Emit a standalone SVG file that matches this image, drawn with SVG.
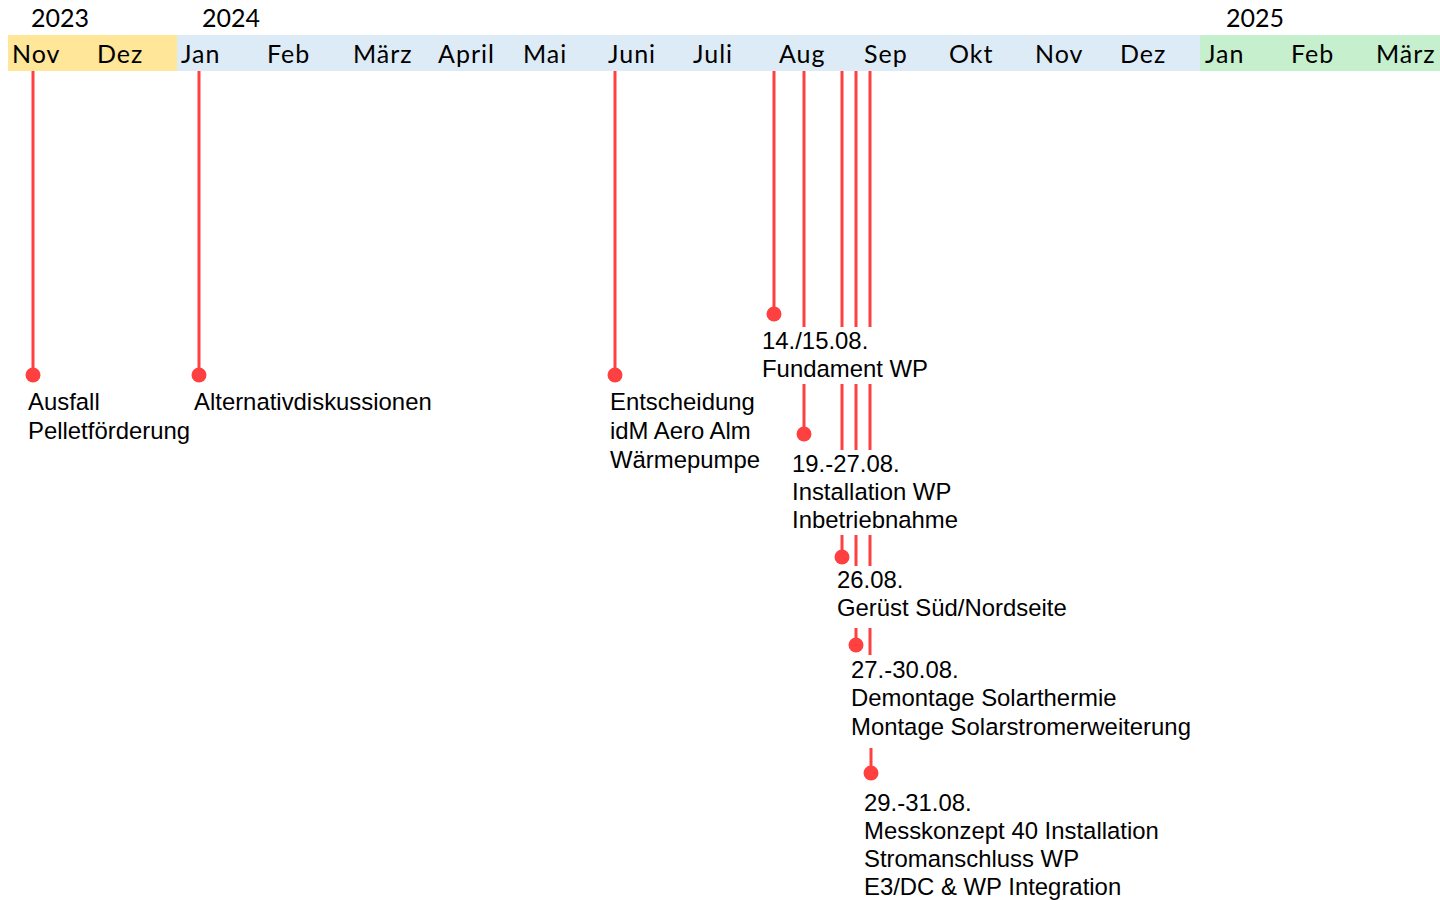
<svg xmlns="http://www.w3.org/2000/svg" width="1440" height="900" viewBox="0 0 1440 900">
<style>
.yr{font-family:Lato,"Open Sans","Liberation Sans",sans-serif;font-size:25px;fill:#000}
.mo{font-family:Lato,"Open Sans","Liberation Sans",sans-serif;font-size:25px;fill:#000;letter-spacing:1px}
.lb{font-family:"Liberation Sans",Arial,sans-serif;font-size:23.9px;fill:#000}
.ln{stroke:#FF4040;stroke-width:3;fill:none}
.dot{fill:#FF4040}
</style>
<rect width="1440" height="900" fill="#fff"/>
<g id="header">
<rect x="8" y="35" width="169" height="36" fill="#FFE699"/>
<rect x="177" y="35" width="1023" height="36" fill="#DDEBF7"/>
<rect x="1200" y="35" width="240" height="36" fill="#C6EFCE"/>
<text class="yr" x="31" y="27">2023</text>
<text class="yr" x="202" y="27">2024</text>
<text class="yr" x="1226" y="27">2025</text>
<text class="mo" x="12" y="63">Nov</text>
<text class="mo" x="97" y="63">Dez</text>
<text class="mo" x="181" y="63">Jan</text>
<text class="mo" x="267" y="63">Feb</text>
<text class="mo" x="353" y="63">März</text>
<text class="mo" x="438" y="63">April</text>
<text class="mo" x="523" y="63" letter-spacing="2.5">Mai</text>
<text class="mo" x="608" y="63">Juni</text>
<text class="mo" x="693" y="63">Juli</text>
<text class="mo" x="779" y="63">Aug</text>
<text class="mo" x="864" y="63">Sep</text>
<text class="mo" x="949" y="63">Okt</text>
<text class="mo" x="1035" y="63">Nov</text>
<text class="mo" x="1120" y="63">Dez</text>
<text class="mo" x="1205" y="63">Jan</text>
<text class="mo" x="1291" y="63">Feb</text>
<text class="mo" x="1376" y="63">März</text>
</g>
<g id="connectors">
<line class="ln" x1="33" y1="71" x2="33" y2="375"/>
<line class="ln" x1="199" y1="71" x2="199" y2="375"/>
<line class="ln" x1="615" y1="71" x2="615" y2="375"/>
<line class="ln" x1="774" y1="71" x2="774" y2="314"/>
<line class="ln" x1="804" y1="71" x2="804" y2="327"/>
<line class="ln" x1="804" y1="384" x2="804" y2="434"/>
<line class="ln" x1="842" y1="71" x2="842" y2="327"/>
<line class="ln" x1="842" y1="384" x2="842" y2="450"/>
<line class="ln" x1="842" y1="535" x2="842" y2="557"/>
<line class="ln" x1="856" y1="71" x2="856" y2="327"/>
<line class="ln" x1="856" y1="384" x2="856" y2="450"/>
<line class="ln" x1="856" y1="535" x2="856" y2="566"/>
<line class="ln" x1="856" y1="628" x2="856" y2="645"/>
<line class="ln" x1="870" y1="71" x2="870" y2="327"/>
<line class="ln" x1="870" y1="384" x2="870" y2="450"/>
<line class="ln" x1="870" y1="535" x2="870" y2="566"/>
<line class="ln" x1="870" y1="628" x2="870" y2="655"/>
<line class="ln" x1="871" y1="748" x2="871" y2="773"/>
</g>
<g id="ev-ausfall">
<circle class="dot" cx="33" cy="375" r="7.5"/>
<text class="lb" x="28" y="410">Ausfall</text>
<text class="lb" x="28" y="439">Pelletförderung</text>
</g>
<g id="ev-alternativ">
<circle class="dot" cx="199" cy="375" r="7.5"/>
<text class="lb" x="194" y="410">Alternativdiskussionen</text>
</g>
<g id="ev-entscheidung">
<circle class="dot" cx="615" cy="375" r="7.5"/>
<text class="lb" x="610" y="410">Entscheidung</text>
<text class="lb" x="610" y="439">idM Aero Alm</text>
<text class="lb" x="610" y="468">Wärmepumpe</text>
</g>
<g id="ev-fundament">
<circle class="dot" cx="774" cy="314" r="7.5"/>
<text class="lb" x="762" y="349">14./15.08.</text>
<text class="lb" x="762" y="377">Fundament WP</text>
</g>
<g id="ev-installation">
<circle class="dot" cx="804" cy="434" r="7.5"/>
<text class="lb" x="792" y="472">19.-27.08.</text>
<text class="lb" x="792" y="500">Installation WP</text>
<text class="lb" x="792" y="528">Inbetriebnahme</text>
</g>
<g id="ev-geruest">
<circle class="dot" cx="842" cy="557" r="7.5"/>
<text class="lb" x="837" y="588">26.08.</text>
<text class="lb" x="837" y="616">Gerüst Süd/Nordseite</text>
</g>
<g id="ev-solar">
<circle class="dot" cx="856" cy="645" r="7.5"/>
<text class="lb" x="851" y="678">27.-30.08.</text>
<text class="lb" x="851" y="706">Demontage Solarthermie</text>
<text class="lb" x="851" y="735">Montage Solarstromerweiterung</text>
</g>
<g id="ev-messkonzept">
<circle class="dot" cx="871" cy="773" r="7.5"/>
<text class="lb" x="864" y="811">29.-31.08.</text>
<text class="lb" x="864" y="839">Messkonzept 40 Installation</text>
<text class="lb" x="864" y="867">Stromanschluss WP</text>
<text class="lb" x="864" y="895">E3/DC &amp; WP Integration</text>
</g>
</svg>
